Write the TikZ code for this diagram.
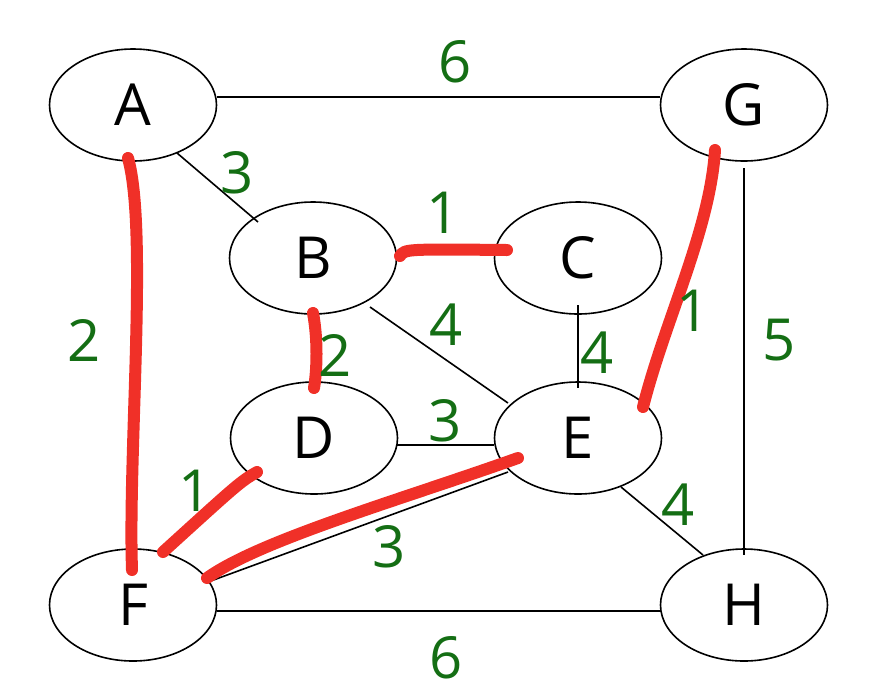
\documentclass[tikz,border=0pt]{standalone}
\usepackage{fontspec}
\setmainfont{Open Sans}
\usetikzlibrary{shapes.geometric}
\definecolor{lblgreen}{RGB}{20,110,20}
\definecolor{mstred}{RGB}{240,48,40}
\tikzset{
  vertex/.style={draw=black, line width=1.6pt, ellipse, minimum width=167pt, minimum height=112pt, inner sep=0pt, font=\fontsize{58}{58}\selectfont},
  edge/.style={draw=black, line width=1.6pt},
  mst/.style={draw=mstred, line width=12pt, line cap=round},
  wlabel/.style={text=lblgreen, inner sep=0pt, font=\fontsize{58}{58}\selectfont}
}
\begin{document}
\begin{tikzpicture}[x=1pt, y=-1pt]
\useasboundingbox (0,0) rectangle (882,697);
% vertices
\node[vertex] (A) at (133,105) {A};
\node[vertex] (G) at (744,105) {G};
\node[vertex] (B) at (313,258) {B};
\node[vertex] (C) at (578,258) {C};
\node[vertex] (D) at (314,438) {D};
\node[vertex] (E) at (578,438) {E};
\node[vertex] (F) at (133,605) {F};
\node[vertex] (H) at (744,605) {H};
% black edges
\draw[edge] ([shift={(84,-8)}]A.center) -- ([shift={(-84,-8)}]G.center);
\draw[edge] ([shift={(44,48)}]A.center) -- ([shift={(-55,-36)}]B.center);
\draw[edge] ([shift={(0,56)}]A.center) -- ([shift={(0,-56)}]F.center);
\draw[edge] ([shift={(1,55)}]B.center) -- ([shift={(0,-55)}]D.center);
\draw[edge] ([shift={(57,49)}]B.center) -- ([shift={(-70,-35)}]E.center);
\draw[edge] ([shift={(0,47)}]C.center) -- ([shift={(0,-50)}]E.center);
\draw[edge] ([shift={(83,7)}]D.center) -- ([shift={(-84,7)}]E.center);
\draw[edge] ([shift={(-57,35)}]D.center) -- ([shift={(30,-53)}]F.center);
\draw[edge] ([shift={(-70,34)}]E.center) -- ([shift={(75,-23)}]F.center);
\draw[edge] ([shift={(43,49)}]E.center) -- ([shift={(-41,-50)}]H.center);
\draw[edge] ([shift={(0,63)}]G.center) -- ([shift={(0,-50)}]H.center);
\draw[edge] ([shift={(84,6)}]F.center) -- ([shift={(-83,6)}]H.center);
% red highlighted edges
\draw[mst] ([shift={(-5,53)}]A.center) .. controls (148,230) and (128,450) .. ([shift={(-1,-35)}]F.center);
\draw[mst] ([shift={(87,-2)}]B.center) .. controls (405,249) .. ([shift={(-71,-8)}]C.center);
\draw[mst] ([shift={(0,55)}]B.center) .. controls (318,340) and (317,370) .. ([shift={(0,-50)}]D.center);
\draw[mst] ([shift={(-29,45)}]G.center) .. controls (710,230) and (665,320) .. ([shift={(65,-31)}]E.center);
\draw[mst] ([shift={(-57,34)}]D.center) .. controls (240,482) .. ([shift={(30,-53)}]F.center);
\draw[mst] ([shift={(-60,20)}]E.center) .. controls (400,500) and (260,540) .. ([shift={(74,-27)}]F.center);
% weights
\node[wlabel] (wAG) at (455,62) {6};
\node[wlabel] (wAB) at (237,173) {3};
\node[wlabel] (wBC) at (443,213) {1};
\node[wlabel] (wAF) at (84,340) {2};
\node[wlabel] (wBD) at (335,355) {2};
\node[wlabel] (wBE) at (446,325) {4};
\node[wlabel] (wCE) at (597,353) {4};
\node[wlabel] (wGE) at (693,311) {1};
\node[wlabel] (wGH) at (779,340) {5};
\node[wlabel] (wDE) at (445,421) {3};
\node[wlabel] (wDF) at (195,491) {1};
\node[wlabel] (wEF) at (389,547) {3};
\node[wlabel] (wEH) at (678,505) {4};
\node[wlabel] (wFH) at (446,658) {6};
\end{tikzpicture}
\end{document}
